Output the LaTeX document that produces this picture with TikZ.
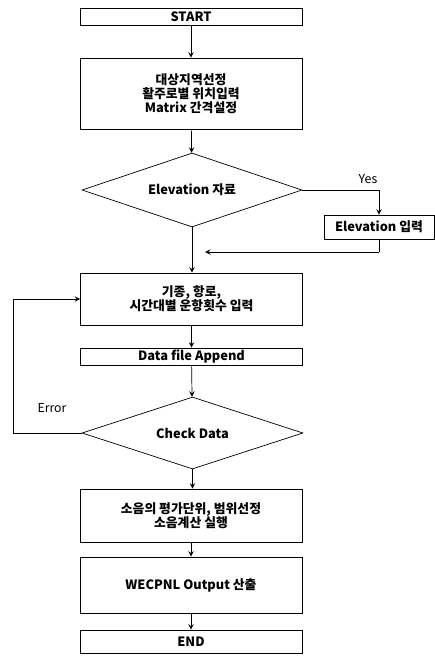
\documentclass[tikz,border=0pt]{standalone}
\usepackage{fontspec}
\setmainfont{Noto Sans CJK KR}
\usetikzlibrary{shapes.geometric}
\begin{document}
\begin{tikzpicture}[x=0.02cm,y=-0.02cm,>=stealth,
        blocco/.style={draw,thin,minimum width=4.44cm,inner sep=0pt,align=center,
            font=\fontsize{7.3}{8}\selectfont\bfseries},
        scelta/.style={draw,thin,diamond,aspect=3,inner sep=0pt,
            font=\fontsize{7.3}{8}\selectfont\bfseries},
        etichetta/.style={font=\fontsize{7}{8}\selectfont}]
        \useasboundingbox (0,0) rectangle (435,664);

        %%%%%%%%%% Blocchi %%%%%%%%%%
        \node[blocco,minimum height=0.34cm] (start) at (191,16.5) {START};
        \node[blocco,minimum height=1.42cm] (sel) at (191,93.5)
            {대상지역선정\\활주로별 위치입력\\Matrix 간격설정};
        \node[scelta,minimum width=4.4cm,minimum height=1.48cm] (elev) at (192,190) {Elevation 자료};
        \node[blocco,minimum width=2.2cm,minimum height=0.48cm] (einp) at (379,227) {Elevation 입력};
        \node[blocco,minimum height=1.04cm] (volo) at (191.5,299)
            {기종, 항로,\\시간대별 운항횟수 입력};
        \node[blocco,minimum height=0.34cm] (data) at (191.5,356.5) {Data file Append};
        \node[scelta,minimum width=4.42cm,minimum height=1.44cm] (check) at (192.5,433) {Check Data};
        \node[blocco,minimum height=1.06cm] (calc) at (191,515.5)
            {소음의 평가단위, 범위선정\\소음계산 실행};
        \node[blocco,minimum height=1.12cm] (out) at (191,585) {WECPNL Output 산출};
        \node[blocco,minimum height=0.46cm] (fine) at (191,641.5) {END};

        \coordinate (ritorno) at (379,252);
        \coordinate (punta) at (205,252);
        \coordinate (giro) at (13,433);

        \node[etichetta] (yes) at (368,179) {Yes};
        \node[etichetta] (err) at (52,408) {Error};

        %%%%%%%%% Collegamenti %%%%%%%%%
        \draw[->] (start) -- (sel);
        \draw[->] (sel) -- (elev);
        \draw[->] (elev.east) -| (einp.north);
        \draw (einp.south) -- (ritorno);
        \draw[->] (ritorno) -- (punta);
        \draw[->] (elev.south) -- (volo.north -| elev.south);
        \draw[->] (volo.south -| data.north) -- (data.north);
        \draw[->] (data) -- (check);
        \draw[->] (check.west) -- (giro) |- (volo.west);
        \draw[->] (check.south) -- (check.south |- calc.north);
        \draw[->] (calc) -- (out);
        \draw[->] (out) -- (fine);
    \end{tikzpicture}
\end{document}
